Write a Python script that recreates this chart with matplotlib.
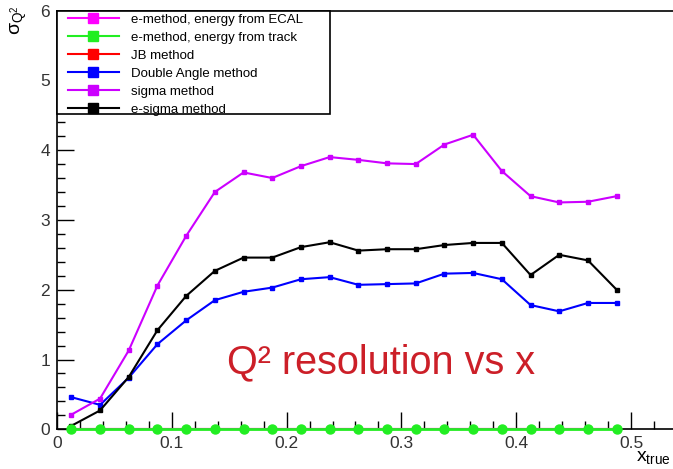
import matplotlib
matplotlib.use("Agg")
import matplotlib.pyplot as plt
from matplotlib.lines import Line2D
from matplotlib.patches import Rectangle
from matplotlib.ticker import MultipleLocator

plt.rcParams['font.family'] = ['Liberation Sans', 'DejaVu Sans']
plt.rcParams['mathtext.fontset'] = 'custom'
plt.rcParams['mathtext.rm'] = 'Liberation Sans'
plt.rcParams['mathtext.it'] = 'Liberation Sans'
plt.rcParams['mathtext.default'] = 'regular'

# ---- data ----
x_true = [0.0125, 0.0375, 0.0625, 0.0875, 0.1125, 0.1375, 0.1625, 0.1875, 0.2125, 0.2375,
          0.2625, 0.2875, 0.3125, 0.3375, 0.3625, 0.3875, 0.4125, 0.4375, 0.4625, 0.4875]
e_ecal = [0.0] * 20
e_track = [0.0] * 20
jb = [0.0] * 20
double_angle = [0.46, 0.35, 0.74, 1.22, 1.56, 1.85, 1.97, 2.03, 2.15, 2.18,
                2.07, 2.08, 2.09, 2.23, 2.24, 2.15, 1.78, 1.69, 1.81, 1.81]
sigma = [0.21, 0.44, 1.13, 2.06, 2.77, 3.40, 3.68, 3.60, 3.77, 3.90,
         3.86, 3.81, 3.80, 4.08, 4.22, 3.70, 3.34, 3.25, 3.26, 3.34]
e_sigma = [0.05, 0.27, 0.75, 1.42, 1.91, 2.27, 2.46, 2.46, 2.61, 2.68,
           2.56, 2.58, 2.58, 2.64, 2.67, 2.67, 2.21, 2.50, 2.42, 2.00]

labels = ["e-method, energy from ECAL", "e-method, energy from track", "JB method",
          "Double Angle method", "sigma method", "e-sigma method"]
colors = ["#ff00ff", "#22ee22", "#ff0000", "#0000ff", "#cc00ff", "#000000"]

W, H = 673, 469
fig = plt.figure(figsize=(W / 100, H / 100), dpi=100)
ax = fig.add_axes([57 / W, 1 - 429.3 / H, 1 - 57 / W, (429.3 - 10.5) / H])
ax.set_xlim(0, (673 - 57) / 1148)
ax.set_ylim(0, 6)

ax.plot(x_true, jb, color=colors[2], lw=1.5, marker='s', ms=3, zorder=2, clip_on=False)
ax.plot(x_true, e_ecal, color=colors[0], lw=1.5, marker='s', ms=3, zorder=3, clip_on=False)
ax.plot(x_true, e_track, color=colors[1], lw=2, marker='o', ms=6.5, zorder=6, clip_on=False)
ax.plot(x_true, double_angle, color=colors[3], lw=1.5, marker='s', ms=2.5, zorder=4)
ax.plot(x_true, sigma, color=colors[4], lw=1.5, marker='s', ms=2.5, zorder=4)
ax.plot(x_true, e_sigma, color=colors[5], lw=1.5, marker='s', ms=2.5, zorder=5)

ax.spines['right'].set_visible(False)
for s in ['left', 'bottom', 'top']:
    ax.spines[s].set_linewidth(1.2)
ax.xaxis.set_major_locator(MultipleLocator(0.1))
ax.xaxis.set_minor_locator(MultipleLocator(0.02))
ax.yaxis.set_major_locator(MultipleLocator(1))
ax.yaxis.set_minor_locator(MultipleLocator(0.2))
ax.tick_params(axis='both', which='both', direction='in', top=False, right=False,
               labelsize=12.5, labelcolor='#333333')
ax.tick_params(axis='both', which='major', length=12, width=1)
ax.tick_params(axis='both', which='minor', length=6, width=1)
ax.tick_params(axis='x', pad=5)
ax.tick_params(axis='y', pad=5)
ax.set_xticks([0, 0.1, 0.2, 0.3, 0.4, 0.5])
ax.set_xticklabels(['0', '0.1', '0.2', '0.3', '0.4', '0.5'])

# legend box
leg_w = (330 - 57) / (673 - 57)
leg_h = (114 - 10.5) / (429.3 - 10.5)
ax.add_patch(Rectangle((0, 1 - leg_h), leg_w, leg_h, transform=ax.transAxes,
                       facecolor='white', edgecolor='black', lw=1.2, zorder=10, clip_on=False))
handles = [Line2D([], [], color=c, lw=1.5, marker='s', ms=7.5) for c in colors]
leg = ax.legend(handles, labels, loc='upper left', bbox_to_anchor=(0.012, 1.0),
                frameon=False, fontsize=9.5, handlelength=3.9, handletextpad=0.9,
                labelspacing=0.43, borderpad=0.25, borderaxespad=0.0)
leg.set_zorder(11)

fig.text(19 / W, 1 - 20 / H, r'$\sigma_{Q^{2}}$', rotation=90, ha='center', va='center', fontsize=14)
fig.text(0.997, 1 - 461 / H, r'x$_{true}$', ha='right', va='baseline', fontsize=14)
fig.text(227 / W, 1 - 373 / H, 'Q² resolution vs x', color='#cc1f28', fontsize=28.5,
         ha='left', va='baseline')

fig.savefig('out.png', dpi=100)
